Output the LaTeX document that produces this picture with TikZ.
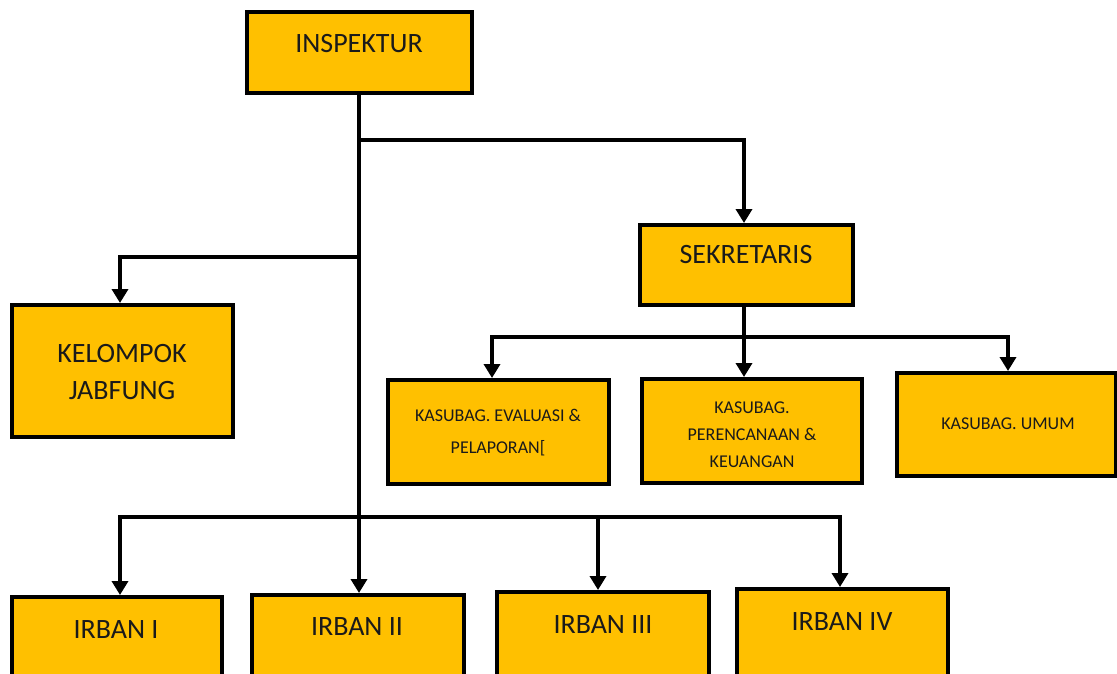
\documentclass[tikz,border=0pt]{standalone}
\usepackage{fontspec}
\setmainfont{Carlito}
\usetikzlibrary{arrows.meta}
\definecolor{gold}{HTML}{FFC000}
\definecolor{ink}{HTML}{1A1A1A}
\tikzset{
  box/.style={draw=black, line width=4pt, fill=gold, inner sep=0pt},
  big/.style={text=ink, font=\fontsize{28}{37}\selectfont, align=center},
  small/.style={text=ink, font=\fontsize{18}{32}\selectfont, align=center},
  conn/.style={draw=black, line width=4pt},
  arr/.style={conn, -{Triangle[width=16pt,length=14pt]}},
}
\begin{document}
\begin{tikzpicture}[x=1pt,y=-1pt]
\clip (0,0) rectangle (1117,673);
\fill[white] (0,0) rectangle (1117,673);
% boxes
\node[box, minimum width=225pt, minimum height=81pt] (insp) at (359.5,52.5) {};
\node[box, minimum width=213pt, minimum height=80pt] (sek) at (746.5,265) {};
\node[box, minimum width=221pt, minimum height=132pt] (kel) at (122.5,371) {};
\node[box, minimum width=221pt, minimum height=104pt] (eva) at (498.5,432) {};
\node[box, minimum width=220pt, minimum height=104pt] (per) at (752,431) {};
\node[box, minimum width=219pt, minimum height=103pt] (umu) at (1006.5,424.5) {};
\node[box, minimum width=210pt, minimum height=130pt, anchor=north] (ir1) at (117,595) {};
\node[box, minimum width=212pt, minimum height=130pt, anchor=north] (ir2) at (358,593) {};
\node[box, minimum width=212pt, minimum height=130pt, anchor=north] (ir3) at (603,590) {};
\node[box, minimum width=211pt, minimum height=130pt, anchor=north] (ir4) at (842.5,587) {};
% texts
\node[big] (tinsp) at (359,44) {INSPEKTUR};
\node[big] (tsek) at (746,255) {SEKRETARIS};
\node[big] (tkel) at (122,372) {KELOMPOK\\JABFUNG};
\node[small] (teva) at (498,433) {KASUBAG. EVALUASI \&\\PELAPORAN[};
\node[small, font=\fontsize{18}{27}\selectfont] (tper) at (752,435) {KASUBAG.\\PERENCANAAN \&\\KEUANGAN};
\node[small] (tumu) at (1008,424) {KASUBAG. UMUM};
\node[big] (tir1) at (116,630) {IRBAN I};
\node[big] (tir2) at (357,627) {IRBAN II};
\node[big] (tir3) at (603,625) {IRBAN III};
\node[big] (tir4) at (842,622) {IRBAN IV};
% junctions
\coordinate (j1) at (359,140);
\coordinate (j2) at (359,257);
\coordinate (j3) at (359,517);
\coordinate (j4) at (744,337);
% connectors
\draw[arr] (insp.south -| 359,0) -- (ir2.north -| 359,0);
\draw[arr] (j1) -| (sek.north -| 744,0);
\draw[arr] (j2) -| (kel.north -| 120,0);
\draw[arr] (j3) -| (ir1.north -| 120,0);
\draw[arr] (j3) -| (ir3.north -| 598,0);
\draw[arr] (j3) -| (ir4.north -| 840,0);
\draw[arr] (sek.south -| 744,0) -- (per.north -| 744,0);
\draw[arr] (j4) -| (eva.north -| 492,0);
\draw[arr] (j4) -| (umu.north -| 1008,0);
\end{tikzpicture}
\end{document}
